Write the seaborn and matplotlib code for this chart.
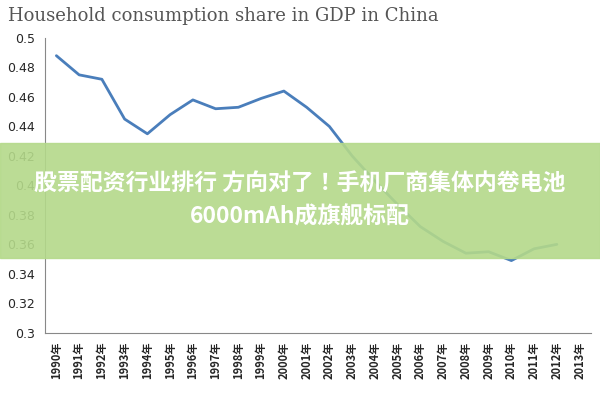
import matplotlib.pyplot as plt
import seaborn as sns
import pandas as pd
from matplotlib.patches import Rectangle

years = [f"{y}年" for y in range(1990, 2014)]
share = [0.488, 0.475, 0.472, 0.445, 0.435, 0.448, 0.458, 0.452, 0.453, 0.459,
         0.464, 0.453, 0.440, 0.420, 0.403, 0.387, 0.372, 0.362, 0.354, 0.355,
         0.349, 0.357, 0.360, None]
yticks = [0.3, 0.32, 0.34, 0.36, 0.38, 0.4, 0.42, 0.44, 0.46, 0.48, 0.5]
banner = "股票配资行业排行 方向对了！手机厂商集体内卷电池\n6000mAh成旗舰标配"

cjk = ["Noto Sans CJK SC", "Noto Sans CJK JP", "Noto Sans CJK TC", "Noto Sans CJK KR", "DejaVu Sans"]

df = pd.DataFrame({"year": range(len(years)), "share": share})

sns.set_style("white")
plt.rcParams["font.family"] = ["DejaVu Sans"] + cjk
fig = plt.figure(figsize=(6, 4), dpi=100)
ax = fig.add_axes([0.075, 0.168, 0.91, 0.737])
sns.lineplot(data=df.dropna(), x="year", y="share", ax=ax, color="#4a7ebb", linewidth=2)

ax.set_ylim(0.3, 0.5)
ax.set_yticks(yticks)
ax.set_yticklabels([f"{v:g}" for v in yticks], fontsize=9)
ax.set_xlim(-0.5, len(years) - 0.5)
ax.set_xticks(range(len(years)))
ax.set_xticklabels(years, rotation=90, fontsize=8, fontweight="bold", family=cjk)
ax.set_xlabel("")
ax.set_ylabel("")
for s in ["top", "right"]:
    ax.spines[s].set_visible(False)
ax.spines["left"].set_color("#888888")
ax.spines["bottom"].set_color("#888888")
ax.tick_params(axis="x", length=3)

fig.text(0.013, 0.96, "Household consumption share in GDP in China", family="DejaVu Serif",
         fontsize=13, color="#555555", va="center")

fig.patches.append(Rectangle((0, 0.355), 1, 0.288, transform=fig.transFigure,
                             color="#b4d98a", alpha=0.9, zorder=5))
fig.text(0.5, 0.5, banner, ha="center", va="center", color="white", fontsize=16.5,
         fontweight="bold", family=cjk, linespacing=1.6, zorder=6)

fig.savefig("out.png")
